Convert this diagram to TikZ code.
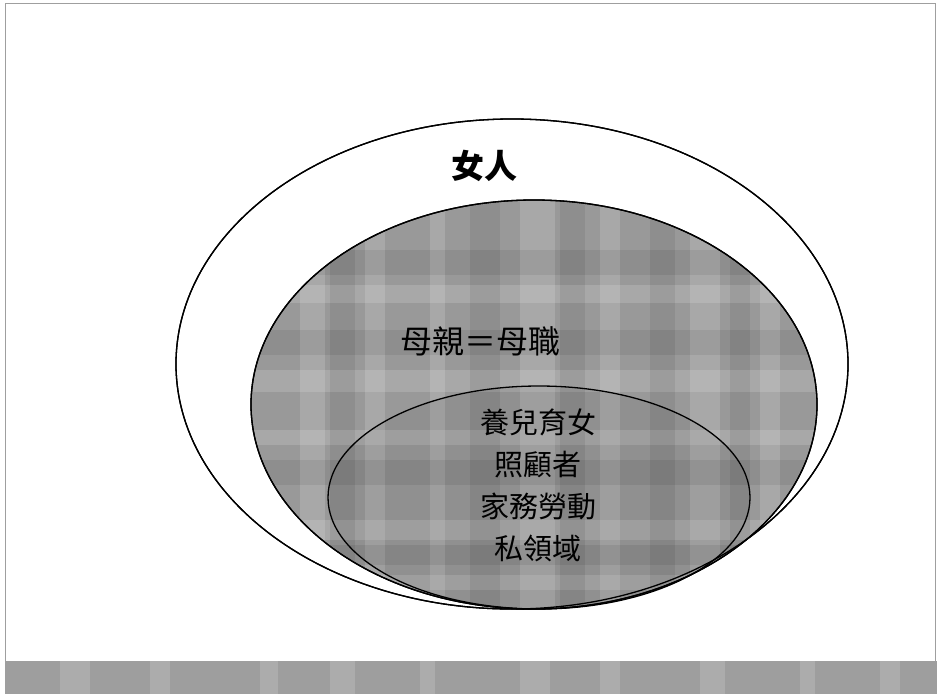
\documentclass[tikz,border=0pt]{standalone}
\usepackage{fontspec}
\newfontfamily\cjk{Noto Sans CJK TC}
\usetikzlibrary{shapes.geometric}
\definecolor{plaid}{gray}{0.6}
\definecolor{bandgray}{gray}{0.62}
\begin{document}
\begin{tikzpicture}[x=1pt,y=-1pt,
  ring/.style={draw=black, line width=1.3pt, ellipse, inner sep=0pt, outer sep=0pt},
  lightband/.style={fill=white, opacity=0.15},
  darkband/.style={fill=black, opacity=0.07},
  label/.style={font=\cjk\fontsize{32}{36}\selectfont, inner sep=0pt}]
\useasboundingbox (0,0) rectangle (937,694);
\fill[white] (0,0) rectangle (937,694);
% frame
\draw[gray!75, line width=1pt] (5,661) -- (5,3) -- (935,3) -- (935,661);
% bottom band
\fill[bandgray] (5,661) rectangle (937,694);
\foreach \x/\w in {60/30, 150/20, 260/18, 330/25, 420/15, 520/30, 600/20, 700/25, 800/15, 880/20}
  \fill[lightband] (\x,661) rectangle ++(\w,33);
% outer ellipse
\node[ring, fill=white, minimum width=672pt, minimum height=490pt] (outer) at (512,364) {};
% middle ellipse with plaid texture
\node[ring, fill=plaid, minimum width=566pt, minimum height=409pt] (mid) at (534,404.5) {};
\begin{scope}
  \clip (534,404.5) ellipse [x radius=282pt, y radius=203.5pt];
  \foreach \x/\w in {300/25, 365/20, 430/15, 520/35, 600/20, 690/30, 760/20}
    \fill[lightband] (\x,190) rectangle ++(\w,430);
  \foreach \y/\h in {285/18, 370/22, 430/15, 520/20, 575/15}
    \fill[lightband] (240,\y) rectangle ++(590,\h);
  \foreach \x/\w in {330/25, 470/30, 560/25, 650/25, 730/20}
    \fill[darkband] (\x,190) rectangle ++(\w,430);
  \foreach \y/\h in {250/25, 330/25, 460/25, 545/20}
    \fill[darkband] (240,\y) rectangle ++(590,\h);
\end{scope}
\node[ring, minimum width=672pt, minimum height=490pt] (outerline) at (512,364) {};
\node[ring, minimum width=566pt, minimum height=409pt] (midline) at (534,404.5) {};
% inner ellipse
\node[ring, fill=black, fill opacity=0.06, minimum width=422pt, minimum height=223pt] (inner) at (539,497.5) {};
% labels
\node[label, font=\cjk\bfseries\fontsize{33}{36}\selectfont] (woman) at (484,166) {女人};
\node[label] (mother) at (480,341) {母親＝母職};
\node[font=\cjk\fontsize{29}{42}\selectfont, align=center, inner sep=0pt] (roles) at (538,485) {養兒育女\\照顧者\\家務勞動\\私領域};
\end{tikzpicture}
\end{document}
